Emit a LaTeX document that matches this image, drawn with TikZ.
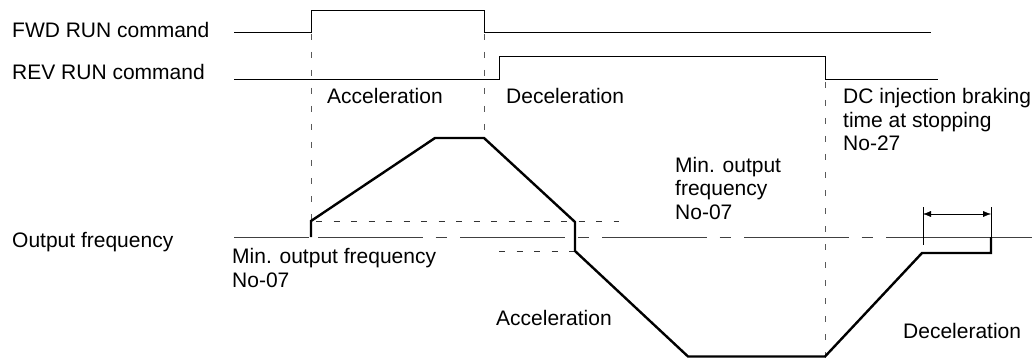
\documentclass[tikz,border=0pt]{standalone}
\usepackage{fontspec}
\setmainfont{Liberation Sans}
\usetikzlibrary{arrows.meta}

\begin{document}
\begin{tikzpicture}[
    x=1pt, y=-1pt,
    every node/.style={font=\fontsize{21}{23.5}\selectfont, inner sep=0pt, align=left},
    signal/.style={line width=0.9pt},
    axisline/.style={black!75, line width=0.9pt},
    freq/.style={line width=2.4pt, line join=miter},
    guide/.style={black!65, line width=0.9pt, dash pattern=on 6pt off 12pt},
    level/.style={black!80, line width=0.8pt, dash pattern=on 6pt off 11.5pt},
    centreline/.style={black!75, line width=0.9pt, dash pattern=on 105pt off 12.5pt on 11pt off 13.5pt},
    >={Latex[length=8pt,width=6pt]}
]
\useasboundingbox (0,0) rectangle (1032,358);

% Parameters
\def\yfwd{32}
\def\yfwdhi{10}
\def\yrev{79}
\def\yrevhi{56}
\def\yaxis{237}

% === Run commands ===
\draw[signal] (234,\yfwd) -- (311,\yfwd) -- (311,\yfwdhi) -- (484,\yfwdhi) -- (484,\yfwd) -- (931,\yfwd);
\draw[signal] (234,\yrev) -- (499,\yrev) -- (499,\yrevhi) -- (825,\yrevhi) -- (825,\yrev) -- (938,\yrev);

% Guide lines
\draw[guide] (311,34) -- (311,\yaxis);
\draw[guide] (484,34) -- (484,137);
\draw[guide] (825,82) -- (825,358);

% === Output frequency axis ===
\draw[axisline] (234,\yaxis) -- (309,\yaxis);
\draw[centreline] (318,\yaxis) -- (886,\yaxis);
\draw[axisline] (886,\yaxis) -- (1032,\yaxis);

% Min. output frequency levels
\draw[level] (316,221) -- (619,221);
\draw[level] (499,251) -- (575,251);

% Output frequency curve
\draw[freq] (311,\yaxis) -- (311,221) -- (435,138) -- (484,138) -- (575,222) -- (575,251)
    -- (688,356.5) -- (825,356.5) -- (922,253) -- (991,253) -- (991,\yaxis);

% === DC injection braking time ===
\coordinate (brkL) at (923,214);
\coordinate (brkR) at (991,214);
\draw[thin] (923,207) -- (923,245);
\draw[thin] (991,207) -- (991,238);
\draw[<->, thin] (brkL) -- (brkR);

% === Labels (multi-line nodes sit on their last line) ===
\node[anchor=base west] (fwd) at (12,38) {FWD RUN command};
\node[anchor=base west] (rev) at (12,80) {REV RUN command};
\node[anchor=base west] (acc1) at (327,104) {Acceleration};
\node[anchor=base west] (dec1) at (506,104) {Deceleration};
\node[anchor=base west] (dcbrake) at (843,151) {DC injection braking\\time at stopping\\No-27};
\node[anchor=base west] (minout1) at (675,219) {Min. output\\frequency\\No-07};
\node[anchor=base west] (outfreq) at (12,247) {Output frequency};
\node[anchor=base west] (minout2) at (232,287) {Min. output frequency\\No-07};
\node[anchor=base west] (acc2) at (496,325) {Acceleration};
\node[anchor=base west] (dec2) at (903,338) {Deceleration};

\end{tikzpicture}
\end{document}
